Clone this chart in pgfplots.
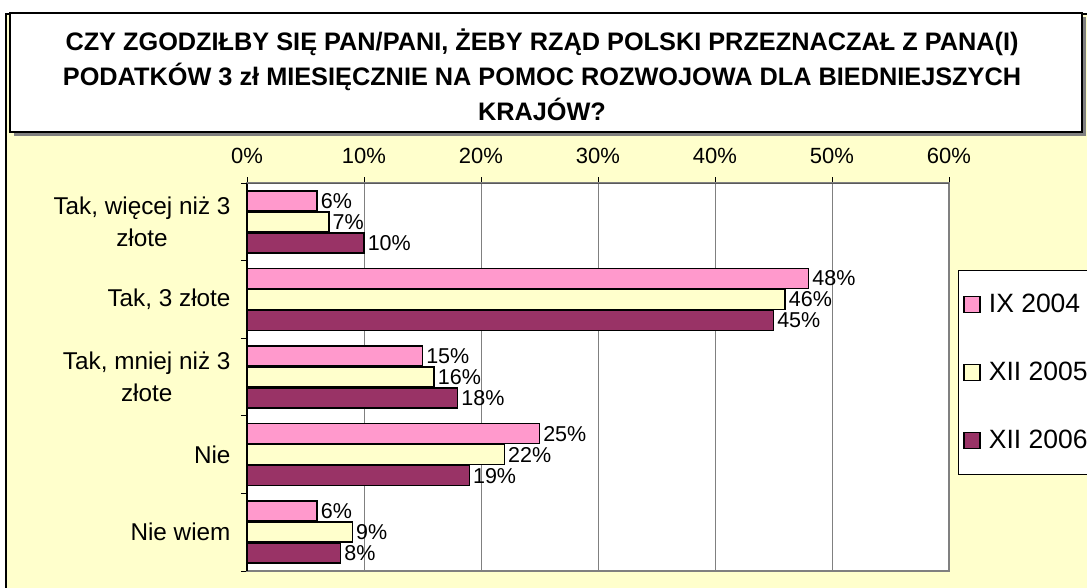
\documentclass[border=0pt]{standalone}
\usepackage{pgfplots}
\pgfplotsset{compat=1.18}
\usepackage{fontspec}
\setmainfont{Liberation Sans}
\definecolor{bgy}{HTML}{FFFFCC}
\definecolor{cpink}{HTML}{FF99CC}
\definecolor{cyel}{HTML}{FFFFCC}
\definecolor{cmar}{HTML}{993366}
\definecolor{sgray}{HTML}{808080}
\begin{document}
\begin{tikzpicture}[x=1pt,y=1pt]
\path[use as bounding box] (0,0) rectangle (1087,-588);
\clip (0,0) rectangle (1087,-588);
% background
\fill[bgy] (6,-14) rectangle (1095,-595);
\draw[black, line width=1.5pt] (6,-595) -- (6,-14) -- (1095,-14);
% title box
\fill[sgray] (14,-17) rectangle (1086,-136);
\filldraw[fill=white, draw=black, line width=1.2pt] (10,-13) rectangle (1082,-132);
\node[align=center, font=\fontsize{25.3}{35}\selectfont\bfseries] at (542,-75)
 {CZY ZGODZIŁBY SIĘ PAN/PANI, ŻEBY RZĄD POLSKI PRZEZNACZAŁ Z PANA(I)\\
  PODATKÓW 3 zł MIESIĘCZNIE NA POMOC ROZWOJOWA DLA BIEDNIEJSZYCH\\
  KRAJÓW?};
\begin{axis}[
  at={(247pt,-571pt)}, anchor=south west,
  scale only axis, width=702pt, height=388pt,
  xbar, bar width=20pt,
  xmin=0, xmax=60, ymin=0.5, ymax=5.5, y dir=reverse,
  axis background/.style={fill=white},
  axis line style={draw=sgray, line width=2pt},
  xtick={0,10,...,60},
  xticklabel={\pgfmathprintnumber{\tick}\%},
  /pgf/number format/assume math mode=true,
  xtick pos=upper, xticklabel pos=upper,
  ytick pos=left,
  tick align=outside, major tick length=6pt,
  tick style={black, line width=1pt},
  xticklabel style={font=\fontsize{22}{26}\selectfont, yshift=10pt},
  xmajorgrids, grid style={sgray, line width=1pt},
  ytick={0.5,1.5,...,5.5}, yticklabels={},
  extra y ticks={1,2,3,4,5},
  extra y tick labels={{Tak, więcej niż 3\\złote},{Tak, 3 złote},{Tak, mniej niż 3\\złote},{Nie},{Nie wiem}},
  extra y tick style={major tick length=0pt, yticklabel style={align=center, font=\fontsize{24.3}{32}\selectfont, xshift=-13pt}},
  point meta=x,
  nodes near coords={\pgfmathprintnumber{\pgfplotspointmeta}\%},
  nodes near coords style={font=\fontsize{21.5}{24}\selectfont, anchor=west, inner sep=3pt, text=black},
  every axis plot/.append style={draw=black, line width=1.5pt},
  legend style={at={(1.0128,0.776)}, anchor=north west, draw=black, line width=0.8pt, fill=white,
     font=\fontsize{26.5}{30}\selectfont, row sep=44pt, inner xsep=5pt, inner ysep=22pt,
     /tikz/every odd column/.append style={column sep=6pt},
     /tikz/every even column/.append style={column sep=20pt}},
  legend cell align=left,
  legend image code/.code={\draw[#1, line width=1.5pt] (0pt,-8pt) rectangle (16pt,8pt);},
  clip=false,
]
\addplot[fill=cpink, bar shift=21pt] coordinates {(6,1) (48,2) (15,3) (25,4) (6,5)};
\addplot[fill=cyel, bar shift=0pt] coordinates {(7,1) (46,2) (16,3) (22,4) (9,5)};
\addplot[fill=cmar, bar shift=-21pt] coordinates {(10,1) (45,2) (18,3) (19,4) (8,5)};
\legend{IX 2004, XII 2005, XII 2006}
\draw[black, line width=1.5pt] (rel axis cs:0,0) -- (rel axis cs:0,1);
\draw[sgray!70!black, line width=1pt] (rel axis cs:0,1) -- (rel axis cs:1,1);
\end{axis}
\end{tikzpicture}
\end{document}
